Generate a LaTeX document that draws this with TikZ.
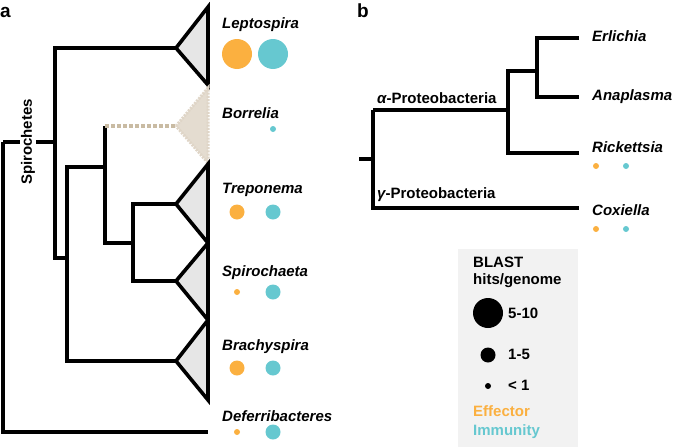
\documentclass[tikz,border=0pt]{standalone}
\usepackage{fontspec}
\setmainfont{Liberation Sans}
\definecolor{effc}{HTML}{FBB040}
\definecolor{immc}{HTML}{66C8D0}
\definecolor{trifill}{HTML}{E6E6E6}
\definecolor{borfill}{HTML}{E4DCD0}
\definecolor{borline}{HTML}{C9BBA3}
\definecolor{legfill}{HTML}{F2F2F2}
\begin{document}
\begin{tikzpicture}[x=1pt,y=-1pt,
  br/.style={line width=3.6pt, line cap=butt, line join=miter},
  tri/.style={br, fill=trifill},
  taxon/.style={anchor=west, inner sep=0pt, font=\fontsize{15}{15}\selectfont\bfseries\itshape},
  lab/.style={anchor=west, inner sep=0pt, font=\fontsize{15}{15}\selectfont\bfseries},
  eff/.style={circle, fill=effc, inner sep=0pt},
  imm/.style={circle, fill=immc, inner sep=0pt},
  blk/.style={circle, fill=black, inner sep=0pt}]
\useasboundingbox (0,0) rectangle (674,447);
% panel labels
\node[lab, font=\fontsize{19}{19}\selectfont\bfseries] (pa) at (0,12) {a};
\node[lab, font=\fontsize{19}{19}\selectfont\bfseries] (pb) at (357,11) {b};

% ---- panel a tree ----
\coordinate (root1) at (3,142);
\coordinate (root2) at (3,432);
\coordinate (sp1) at (55,48);
\coordinate (sp2) at (55,258);
\coordinate (n2a) at (67,167);
\coordinate (n2b) at (67,361);
\coordinate (n3a) at (105,126);
\coordinate (n3b) at (105,243);
\coordinate (n4a) at (133,204);
\coordinate (n4b) at (133,281);
\coordinate (lepA) at (176,48);
\coordinate (borA) at (176,126);
\coordinate (treA) at (176,204);
\coordinate (spiA) at (176,281);
\coordinate (braA) at (176,361);
\coordinate (defE) at (208,432);

% triangles
\draw[tri] (lepA) -- (208,7) -- (208,85) -- cycle;
\fill[borfill] (borA) -- (208,88) -- (208,163) -- cycle;
\draw[line width=3pt, borfill!80!borline, dash pattern=on 2pt off 1.2pt] (borA) -- (208,88) -- (208,163) -- cycle;
\draw[tri] (treA) -- (208,164) -- (208,243) -- cycle;
\draw[tri] (spiA) -- (208,243) -- (208,320) -- cycle;
\draw[tri] (braA) -- (208,320) -- (208,400) -- cycle;

% branches
\draw[br] (root1) -- (root1 |- root2) -- (defE);
\draw[br] (root1) -- (sp2 |- root1);
\draw[br] (lepA) -- (sp1) -- (sp2) -- (n2a |- sp2);
\draw[br] (n3a |- n2a) -- (n2a) -- (n2b) -- (braA);
\draw[br] (n3a) -- (n3b) -- (n4a |- n3b);
\draw[br] (treA) -- (n4a) -- (n4b) -- (spiA);
\draw[line width=3.2pt, borline, dash pattern=on 3.5pt off 2.5pt] (n3a) -- (borA);
\node[lab, rotate=90, anchor=center, fill=white, inner sep=1pt] (spir) at (28,142) {Spirochetes};

% taxa labels and circles
\node[taxon] (lep) at (222,25) {Leptospira};
\node[eff, minimum size=30pt] (lepE) at (237,54) {};
\node[imm, minimum size=30pt] (lepI) at (273,54) {};
\node[taxon] (bor) at (222,113) {Borrelia};
\node[imm, minimum size=6pt] (borI) at (273,129) {};
\node[taxon] (tre) at (222,190) {Treponema};
\node[eff, minimum size=15pt] (treE) at (237,212) {};
\node[imm, minimum size=15pt] (treI) at (273,212) {};
\node[taxon] (spi) at (222,273) {Spirochaeta};
\node[eff, minimum size=6pt] (spiE) at (237,292) {};
\node[imm, minimum size=15pt] (spiI) at (273,292) {};
\node[taxon] (bra) at (222,347) {Brachyspira};
\node[eff, minimum size=15pt] (braE) at (237,368) {};
\node[imm, minimum size=15pt] (braI) at (273,368) {};
\node[taxon] (def) at (222,416) {Deferribacteres};
\node[eff, minimum size=6pt] (defE2) at (237,432) {};
\node[imm, minimum size=15pt] (defI) at (273,432) {};

% ---- panel b tree ----
\coordinate (bstub) at (359,159);
\coordinate (b0) at (373,159);
\coordinate (ba) at (373,110);
\coordinate (bg) at (373,208);
\coordinate (b1a) at (508,71);
\coordinate (b1b) at (508,153);
\coordinate (b2a) at (537,38);
\coordinate (b2b) at (537,97);
\draw[br] (bstub) -- (b0);
\draw[br] (ba) -- (bg) -- (579,208);
\draw[br] (ba) -- (b1a |- ba);
\draw[br] (b2a |- b1a) -- (b1a) -- (b1b) -- (579,153);
\draw[br] (579,38) -- (b2a) -- (b2b) -- (579,97);
\node[lab] (alpha) at (377,98) {{\itshape α}-Proteobacteria};
\node[lab] (gamma) at (377,195) {{\itshape γ}-Proteobacteria};
\node[taxon] (erl) at (592,36) {Erlichia};
\node[taxon] (ana) at (592,97) {Anaplasma};
\node[taxon] (ric) at (592,147) {Rickettsia};
\node[eff, minimum size=6pt] (ricE) at (596,166) {};
\node[imm, minimum size=6pt] (ricI) at (626,166) {};
\node[taxon] (cox) at (592,210) {Coxiella};
\node[eff, minimum size=6pt] (coxE) at (596,229) {};
\node[imm, minimum size=6pt] (coxI) at (626,229) {};

% ---- legend ----
\fill[legfill] (458,249) rectangle (578,447);
\node[lab] (blast) at (473,262) {BLAST};
\node[lab] (hits) at (473,281) {hits/genome};
\node[blk, minimum size=30pt] (c1) at (488,313) {};
\node[lab] (t1) at (508,313) {5-10};
\node[blk, minimum size=15pt] (c2) at (488,355) {};
\node[lab] (t2) at (508,354) {1-5};
\node[blk, minimum size=6pt] (c3) at (488,386) {};
\node[lab] (t3) at (508,385) {< 1};
\node[lab, text=effc] (eff) at (473,411) {Effector};
\node[lab, text=immc] (imm) at (473,432) {Immunity};
\end{tikzpicture}
\end{document}
